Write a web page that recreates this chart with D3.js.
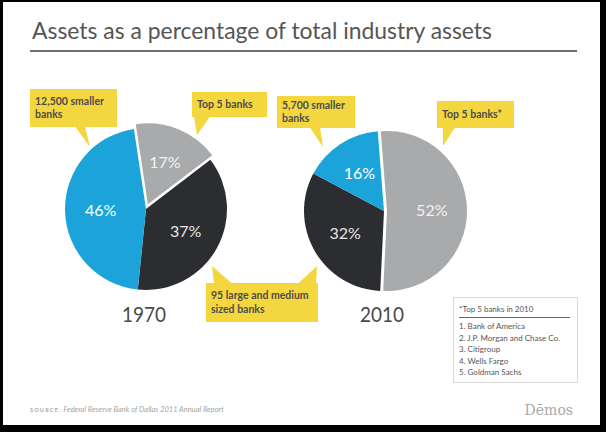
<!DOCTYPE html>
<html>
<head>
<meta charset="utf-8">
<script src="https://cdn.jsdelivr.net/npm/d3@7"></script>
<style>
  body { margin: 0; background: #000; }
  svg { display: block; }
</style>
</head>
<body>
<script>
// data
const categories = ["Top 5 banks", "Large and medium banks", "Smaller banks"];
const years = ["1970", "2010"];
const values1970 = [17, 37, 46];
const values2010 = [52, 32, 16];
const sliceColors = ["#a9aaac", "#2c2d30", "#1ca4da"];
const labelColors = ["#f2f2f2", "#e6e6e6", "#ffffff"];
const top5List = ["1. Bank of America", "2. J.P. Morgan and Chase Co.", "3. Citigroup", "4. Wells Fargo", "5. Goldman Sachs"];

const W = 606, H = 432;
const svg = d3.select("body").append("svg")
    .attr("width", W)
    .attr("height", H);

svg.append("rect").attr("width", W).attr("height", H).attr("fill", "#000");
svg.append("rect").attr("x", 3).attr("y", 2).attr("width", 597).attr("height", 423).attr("fill", "#fff");

// title
svg.append("text")
    .attr("x", 32).attr("y", 39)
    .attr("font-family", "Lato")
    .attr("font-size", 23)
    .attr("fill", "#555")
    .attr("textLength", 460)
    .attr("lengthAdjust", "spacingAndGlyphs")
    .text("Assets as a percentage of total industry assets");

svg.append("line")
    .attr("x1", 30).attr("x2", 577)
    .attr("y1", 51).attr("y2", 51)
    .attr("stroke", "#6e6e6e")
    .attr("stroke-width", 2);

const deg = Math.PI / 180;
const pies = [
    { year: years[0], values: values1970, cx: 146, cy: 209, r: 81, start: -8.6 * deg, explode: 5 },
    { year: years[1], values: values2010, cx: 384, cy: 211, r: 80, start: -4.5 * deg, explode: 3 }
];

for (let p of pies) {
    const g = svg.append("g").attr("transform", `translate(${p.cx},${p.cy})`);
    const pie = d3.pie().sort(null).startAngle(p.start).endAngle(p.start + 2 * Math.PI);
    const arcs = pie(p.values);
    const arc = d3.arc().innerRadius(0).outerRadius(p.r);
    const labelArc = d3.arc().innerRadius(p.r * 0.56).outerRadius(p.r * 0.56);

    // slice 0 (top 5 banks) is pulled out a little
    const shift = d => {
        if (d.index != 0) return "";
        const a = (d.startAngle + d.endAngle) / 2;
        return `translate(${Math.sin(a) * p.explode},${-Math.cos(a) * p.explode})`;
    };

    g.selectAll("path")
        .data(arcs)
        .enter()
        .append("path")
        .attr("d", arc)
        .attr("fill", (d, i) => sliceColors[i])
        .attr("transform", shift);

    g.selectAll("text.pct")
        .data(arcs)
        .enter()
        .append("text")
        .attr("class", "pct")
        .attr("transform", d => {
            const c = labelArc.centroid(d);
            return `${shift(d)} translate(${c[0]},${c[1]})`;
        })
        .attr("text-anchor", "middle")
        .attr("dy", "0.36em")
        .attr("font-family", "Lato")
        .attr("font-size", 16)
        .attr("fill", (d, i) => labelColors[i])
        .text(d => d.data + "%");

    svg.append("text")
        .attr("x", p.cx - 2).attr("y", 322)
        .attr("text-anchor", "middle")
        .attr("font-family", "Lato")
        .attr("font-size", 22)
        .attr("textLength", 44)
        .attr("lengthAdjust", "spacingAndGlyphs")
        .attr("fill", "#4a4a4a")
        .text(p.year);
}

// yellow callouts
const callouts = [
    { lines: ["12,500 smaller", "banks"], x: 30, y: 89, w: 87, h: 38, tips: [[75, 85, 90, 147]] },
    { lines: ["Top 5 banks"], x: 192, y: 92, w: 75, h: 25, tips: [[194, 210, 197, 135]] },
    { lines: ["95 large and medium", "sized banks"], x: 206, y: 283, w: 112, h: 39, tips: [[214, 232, 212, 266], [298, 316, 317, 266]] },
    { lines: ["5,700 smaller", "banks"], x: 277, y: 96, w: 78, h: 32, tips: [[310, 320, 323, 147]] },
    { lines: ["Top 5 banks*"], x: 437, y: 101, w: 77, h: 27, tips: [[443, 455, 443, 146]] }
];

for (let c of callouts) {
    const g = svg.append("g");
    g.append("rect")
        .attr("x", c.x).attr("y", c.y)
        .attr("width", c.w).attr("height", c.h)
        .attr("fill", "#f4d63e");
    for (let t of c.tips) {
        const baseY = t[3] > c.y ? c.y + c.h - 0.5 : c.y + 0.5;
        g.append("polygon")
            .attr("points", `${t[0]},${baseY} ${t[1]},${baseY} ${t[2]},${t[3]}`)
            .attr("fill", "#f4d63e");
    }
    const lineH = 13.5;
    const y0 = c.y + c.h / 2 - (c.lines.length - 1) * lineH / 2;
    c.lines.forEach((s, i) => {
        g.append("text")
            .attr("x", c.x + 5)
            .attr("y", y0 + i * lineH)
            .attr("dy", "0.35em")
            .attr("font-family", "Lato")
            .attr("font-weight", 700)
            .attr("font-size", 10.5)
            .attr("fill", "#4d4d4d")
            .text(s);
    });
}

// footnote box
const box = svg.append("g");
box.append("rect")
    .attr("x", 453.5).attr("y", 297.5)
    .attr("width", 124).attr("height", 85)
    .attr("fill", "#fff")
    .attr("stroke", "#dcdcdc");
box.append("text")
    .attr("x", 459).attr("y", 312)
    .attr("font-family", "Lato")
    .attr("font-size", 8)
    .attr("fill", "#555")
    .text("*Top 5 banks in 2010");
box.append("line")
    .attr("x1", 459).attr("x2", 570)
    .attr("y1", 317.5).attr("y2", 317.5)
    .attr("stroke", "#666");
top5List.forEach((s, i) => {
    box.append("text")
        .attr("x", 459).attr("y", 329 + i * 11.6)
        .attr("font-family", "Lato")
        .attr("font-size", 8)
        .attr("fill", "#555")
        .text(s);
});

// source + logo
const src = svg.append("text")
    .attr("x", 30).attr("y", 412)
    .attr("font-family", "Lato")
    .attr("font-size", 7.5)
    .attr("fill", "#a5a5a5");
src.append("tspan")
    .attr("font-size", 5.5)
    .attr("letter-spacing", 1.2)
    .attr("font-weight", 700)
    .text("SOURCE:");
src.append("tspan")
    .attr("font-style", "italic")
    .text(" Federal Reserve Bank of Dallas 2011 Annual Report");

svg.append("text")
    .attr("x", 573).attr("y", 415)
    .attr("text-anchor", "end")
    .attr("font-family", "DejaVu Serif")
    .attr("font-size", 14)
    .attr("fill", "#a8a8a8")
    .text("Dēmos");
</script>
</body>
</html>
